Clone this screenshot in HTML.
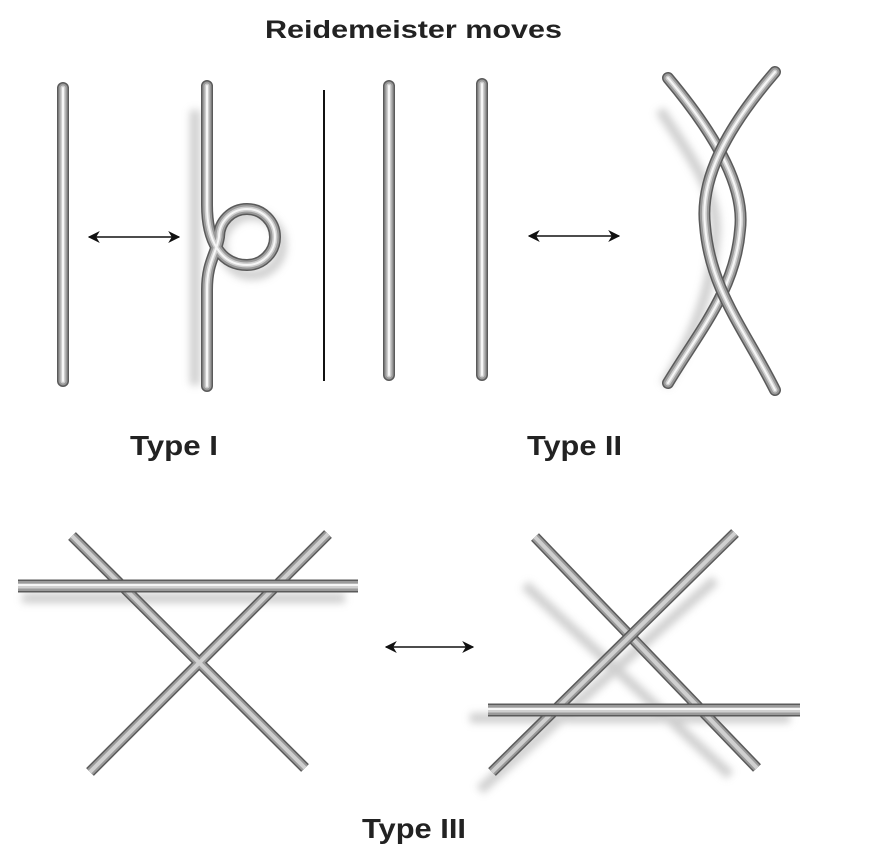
<!DOCTYPE html>
<html><head><meta charset="utf-8"><style>
html,body{margin:0;padding:0;background:#fff;width:874px;height:864px;overflow:hidden}
svg text{font-family:"Liberation Sans",sans-serif;font-weight:bold;fill:#222}
</style></head><body>
<svg width="874" height="864" viewBox="0 0 874 864" xmlns="http://www.w3.org/2000/svg">
<defs>
<filter id="blur" x="-20%" y="-20%" width="140%" height="140%"><feGaussianBlur stdDeviation="4"/></filter>
<marker id="ah" viewBox="0 0 10 10" refX="9" refY="5" markerWidth="8" markerHeight="8" orient="auto-start-reverse"><path d="M0,0 L10,5 L0,10 L3,5 Z" fill="#111"/></marker>
<path id="s1" d="M668,78 C720,140 745,190 740,230 C735,290 700,330 668,383"/>
<path id="s2" d="M775,72 C725,130 700,180 705,225 C710,290 745,330 775,390"/>
<path id="loop" d="M207,86 L207,205 C207,240 220,265 247,265 A28,28 0 1 0 219,237 C216,255 207,262 207,290 L207,386"/>
<g id="r1"><line x1="63" y1="88" x2="63" y2="381"/><line x1="389" y1="86" x2="389" y2="375"/><line x1="482" y1="84" x2="482" y2="375"/></g>
</defs>
<text x="265" y="38" font-size="25" textLength="297" lengthAdjust="spacingAndGlyphs">Reidemeister moves</text>
<text x="130" y="455" font-size="28" textLength="88" lengthAdjust="spacingAndGlyphs">Type I</text>
<text x="527" y="455" font-size="28" textLength="95" lengthAdjust="spacingAndGlyphs">Type II</text>
<text x="362" y="838" font-size="28" textLength="104" lengthAdjust="spacingAndGlyphs">Type III</text>

<g stroke="#bbb" stroke-width="10" fill="none" filter="url(#blur)" opacity="0.7">
<line x1="195" y1="110" x2="195" y2="385"/>
<circle cx="252" cy="245" r="30"/>
<path d="M660,110 C700,170 720,200 715,240 C710,300 690,340 665,385"/>
<line x1="22" y1="598" x2="345" y2="598"/>
<line x1="470" y1="718" x2="790" y2="718"/>
<line x1="525" y1="585" x2="730" y2="775"/>
<line x1="715" y1="580" x2="480" y2="790"/>
</g>

<g fill="none" stroke-linecap="round">
<g stroke="#5a5a5a" stroke-width="12"><use href="#r1"/></g>
<g stroke="#9a9a9a" stroke-width="9"><use href="#r1"/></g>
<g stroke="#cfcfcf" stroke-width="5"><use href="#r1"/></g>
<g stroke="#f6f6f6" stroke-width="2"><use href="#r1"/></g>

<use href="#loop" stroke="#5a5a5a" stroke-width="12"/>
<use href="#loop" stroke="#9a9a9a" stroke-width="9"/>
<use href="#loop" stroke="#cfcfcf" stroke-width="5"/>
<use href="#loop" stroke="#f6f6f6" stroke-width="2"/>
<line x1="324" y1="90" x2="324" y2="381" stroke="#111" stroke-width="2" stroke-linecap="butt"/>

<use href="#s1" stroke="#5a5a5a" stroke-width="12"/>
<use href="#s1" stroke="#9a9a9a" stroke-width="9"/>
<use href="#s1" stroke="#cfcfcf" stroke-width="5"/>
<use href="#s1" stroke="#f6f6f6" stroke-width="2"/>
<use href="#s2" stroke="#5a5a5a" stroke-width="12"/>
<use href="#s2" stroke="#9a9a9a" stroke-width="9"/>
<use href="#s2" stroke="#cfcfcf" stroke-width="5"/>
<use href="#s2" stroke="#f6f6f6" stroke-width="2"/>

<g stroke-linecap="butt">
<g stroke="#5a5a5a" stroke-width="11"><line x1="72" y1="536" x2="305" y2="768"/><line x1="328" y1="534" x2="90" y2="772"/></g>
<g stroke="#9a9a9a" stroke-width="8"><line x1="72" y1="536" x2="305" y2="768"/><line x1="328" y1="534" x2="90" y2="772"/></g>
<g stroke="#d0d0d0" stroke-width="4"><line x1="72" y1="536" x2="305" y2="768"/><line x1="328" y1="534" x2="90" y2="772"/></g>
<line x1="18" y1="586" x2="358" y2="586" stroke="#5a5a5a" stroke-width="13"/>
<line x1="18" y1="586" x2="358" y2="586" stroke="#9a9a9a" stroke-width="10"/>
<line x1="18" y1="586" x2="358" y2="586" stroke="#d0d0d0" stroke-width="5"/>
<line x1="18" y1="585" x2="358" y2="585" stroke="#f6f6f6" stroke-width="2"/>

<g stroke="#5a5a5a" stroke-width="11"><line x1="535" y1="537" x2="757" y2="768"/></g>
<g stroke="#9a9a9a" stroke-width="8"><line x1="535" y1="537" x2="757" y2="768"/></g>
<g stroke="#d0d0d0" stroke-width="4"><line x1="535" y1="537" x2="757" y2="768"/></g>
<g stroke="#5a5a5a" stroke-width="11"><line x1="735" y1="533" x2="492" y2="772"/></g>
<g stroke="#9a9a9a" stroke-width="8"><line x1="735" y1="533" x2="492" y2="772"/></g>
<g stroke="#d0d0d0" stroke-width="4"><line x1="735" y1="533" x2="492" y2="772"/></g>
<line x1="488" y1="710" x2="800" y2="710" stroke="#5a5a5a" stroke-width="13"/>
<line x1="488" y1="710" x2="800" y2="710" stroke="#9a9a9a" stroke-width="10"/>
<line x1="488" y1="710" x2="800" y2="710" stroke="#d0d0d0" stroke-width="5"/>
<line x1="488" y1="709" x2="800" y2="709" stroke="#f6f6f6" stroke-width="2"/>
</g>
</g>

<g stroke="#111" stroke-width="1.5">
<line x1="89" y1="237" x2="179" y2="237" marker-start="url(#ah)" marker-end="url(#ah)"/>
<line x1="529" y1="236" x2="619" y2="236" marker-start="url(#ah)" marker-end="url(#ah)"/>
<line x1="386" y1="647" x2="473" y2="647" marker-start="url(#ah)" marker-end="url(#ah)"/>
</g>
</svg>
</body></html>
